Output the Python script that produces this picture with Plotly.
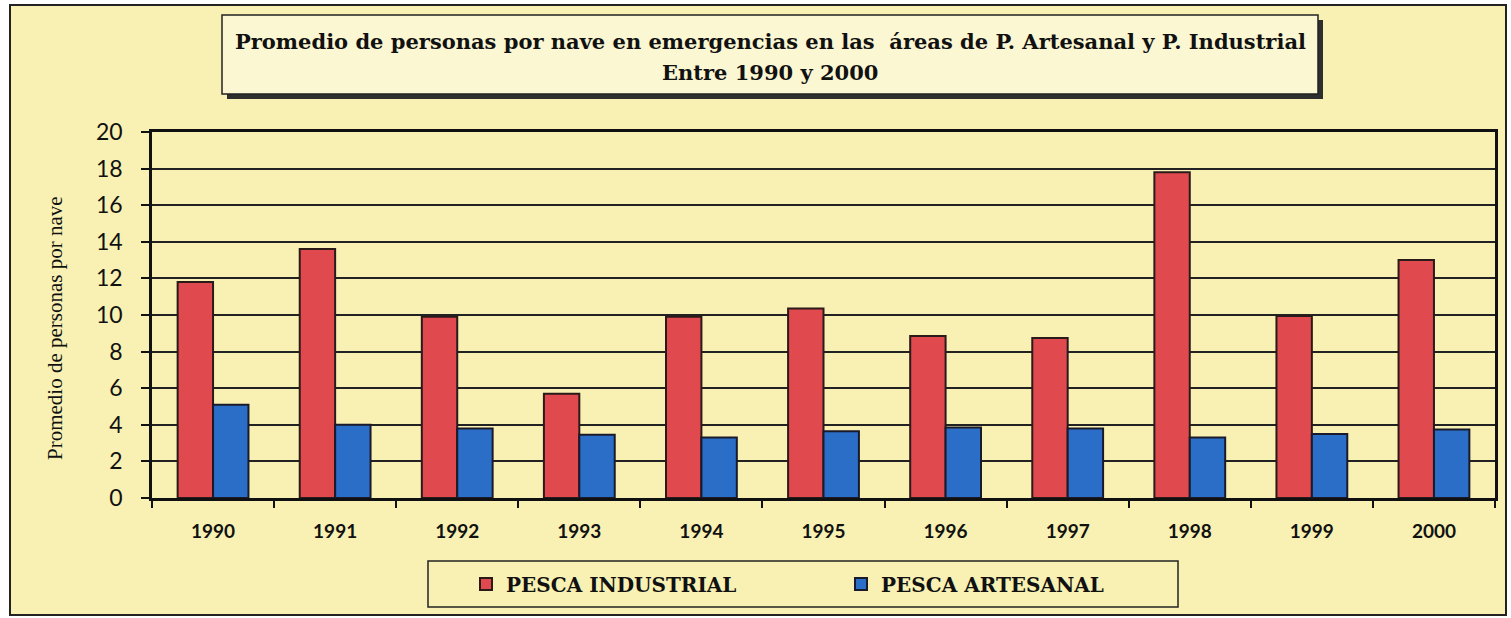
import plotly.graph_objects as go

# data
years = ["1990", "1991", "1992", "1993", "1994", "1995", "1996", "1997", "1998", "1999", "2000"]
pesca_industrial = [11.8, 13.6, 9.9, 5.7, 9.9, 10.35, 8.85, 8.75, 17.8, 9.95, 13.0]
pesca_artesanal = [5.1, 4.0, 3.8, 3.45, 3.3, 3.65, 3.85, 3.8, 3.3, 3.5, 3.75]

W, H = 1511, 618
# plot area in pixels
L, R, T, B = 152, 1495, 132, 498


def px(x):
    return (x - L) / (R - L)


def py(y):
    return (B - y) / (B - T)


paper_yellow = "#f8f1b3"
plot_yellow = "#fbf6c9"

fig = go.Figure()
fig.add_trace(go.Bar(
    x=years, y=pesca_industrial, name="PESCA INDUSTRIAL",
    marker=dict(color="#e0494d", line=dict(color="#2a1a1a", width=2)),
))
fig.add_trace(go.Bar(
    x=years, y=pesca_artesanal, name="PESCA ARTESANAL",
    marker=dict(color="#2b6ec8", line=dict(color="#1a1a2a", width=2)),
))

shapes = [
    # outer frame of the chart
    dict(type="rect", xref="paper", yref="paper", layer="below",
         x0=px(10), x1=px(1506), y0=py(615), y1=py(5),
         fillcolor=paper_yellow, line=dict(color="#222", width=2)),
    # title box shadow + box
    dict(type="rect", xref="paper", yref="paper",
         x0=px(227), x1=px(1323), y0=py(99), y1=py(20),
         fillcolor="#2e2e2e", line=dict(width=0)),
    dict(type="rect", xref="paper", yref="paper",
         x0=px(222), x1=px(1318), y0=py(94), y1=py(15),
         fillcolor="#fbf7d2", line=dict(color="#222", width=1.5)),
    # legend box
    dict(type="rect", xref="paper", yref="paper",
         x0=px(428), x1=px(1178), y0=py(607), y1=py(561),
         fillcolor=paper_yellow, line=dict(color="#222", width=1.5)),
]

annotations = [
    dict(xref="paper", yref="paper", x=px(770), y=py(42),
         text="<b>Promedio de personas por nave en emergencias en las  áreas de P. Artesanal y P. Industrial</b>",
         showarrow=False, xanchor="center", yanchor="middle",
         font=dict(family="DejaVu Serif", size=21, color="#111")),
    dict(xref="paper", yref="paper", x=px(770), y=py(73),
         text="<b>Entre 1990 y 2000</b>",
         showarrow=False, xanchor="center", yanchor="middle",
         font=dict(family="DejaVu Serif", size=21, color="#111")),
    dict(xref="paper", yref="paper", x=px(55), y=py(328),
         text="Promedio de personas por nave", textangle=-90,
         showarrow=False, xanchor="center", yanchor="middle",
         font=dict(family="Liberation Serif", size=21, color="#111")),
]

fig.update_layout(
    width=W, height=H,
    margin=dict(l=L, r=W - R, t=T, b=H - B),
    paper_bgcolor="white",
    plot_bgcolor=plot_yellow,
    barmode="group",
    bargap=0.42,
    bargroupgap=0,
    shapes=shapes,
    annotations=annotations,
    showlegend=True,
    legend=dict(
        orientation="h",
        x=px(466), y=py(584), xanchor="left", yanchor="middle",
        bgcolor="rgba(0,0,0,0)",
        itemwidth=30,
        entrywidth=330,
        font=dict(family="DejaVu Serif", size=20, color="#111", weight="bold"),
        traceorder="normal",
    ),
    font=dict(family="Lato", color="#111"),
)

fig.update_xaxes(
    showline=True, linecolor="#111", linewidth=2.5, mirror=True,
    ticks="outside", tickson="boundaries", ticklen=7, tickcolor="#111", tickwidth=2,
    ticklabelstandoff=14,
    tickfont=dict(family="Lato", size=19, color="#111", weight="bold"),
    showgrid=False,
)
fig.update_yaxes(
    range=[0, 20], dtick=2,
    showline=True, linecolor="#111", linewidth=2.5, mirror=True,
    ticks="outside", ticklen=8, tickcolor="#111", tickwidth=2,
    ticklabelstandoff=14,
    tickfont=dict(family="Lato", size=23, color="#111"),
    showgrid=True, gridcolor="#222", gridwidth=1.8,
    zeroline=False,
)

fig.write_html("out.html", config={"displayModeBar": False},
               post_script="document.body.style.margin='0';")
